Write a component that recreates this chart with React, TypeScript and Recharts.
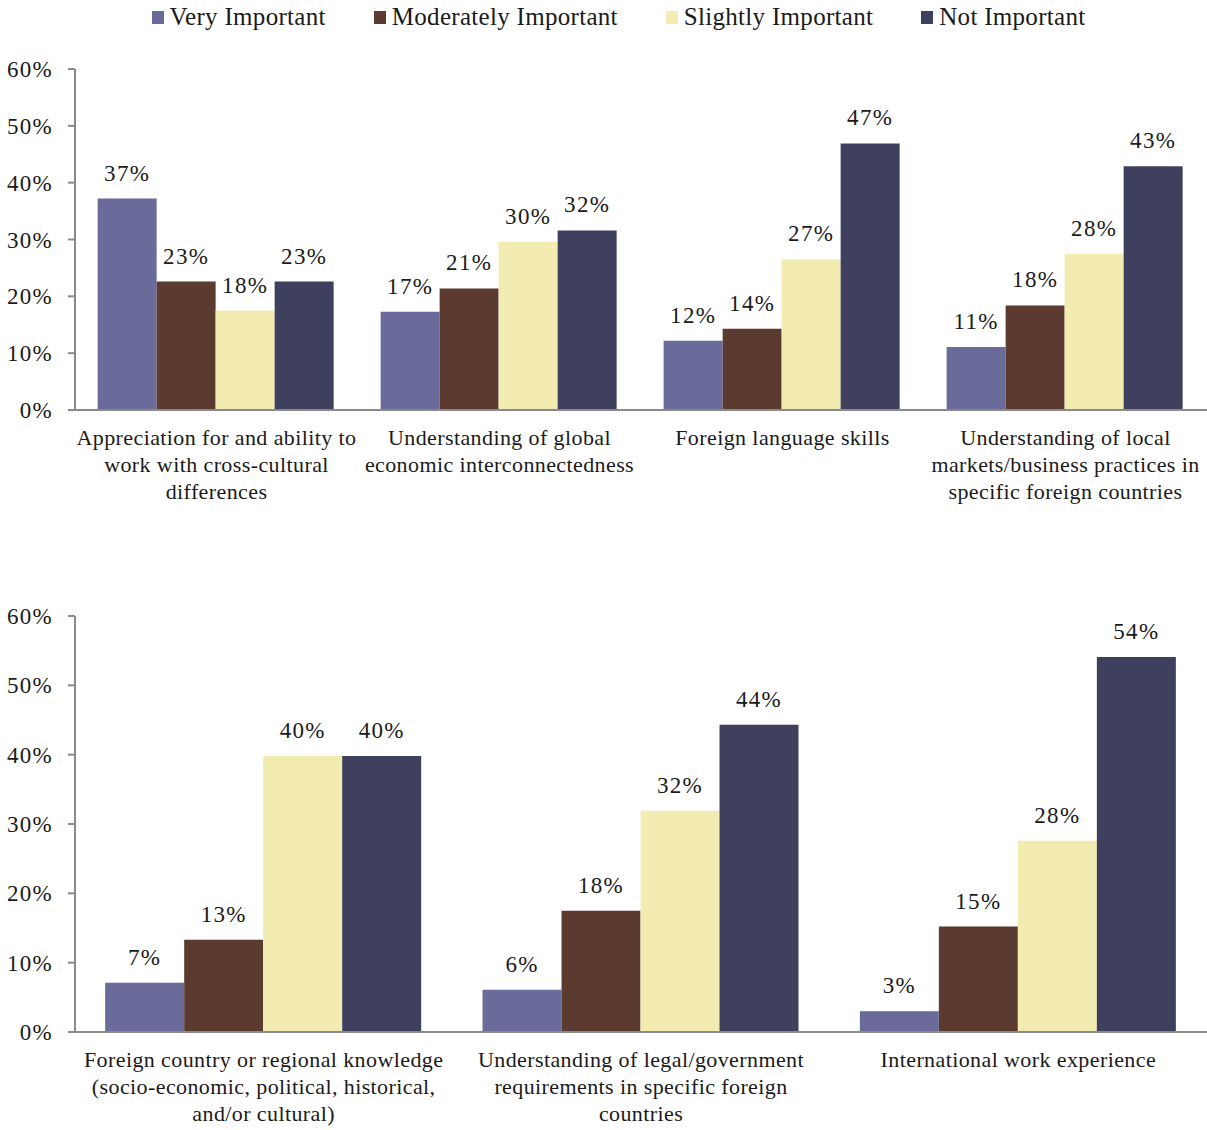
import React from "react";
import { BarChart, Bar, XAxis, YAxis, LabelList } from "recharts";

const seriesNames = ["Very Important", "Moderately Important", "Slightly Important", "Not Important"];
const seriesColors = ["#6a6a9b", "#5b3b2f", "#f2ecb0", "#3e405e"];

const topCategories = [
  "Appreciation for and ability to\nwork with cross-cultural\ndifferences",
  "Understanding of global\neconomic interconnectedness",
  "Foreign language skills",
  "Understanding of local\nmarkets/business practices in\nspecific foreign countries",
];
const topVery = [37.2, 17.3, 12.2, 11.1];
const topModerate = [22.6, 21.4, 14.3, 18.4];
const topSlight = [17.5, 29.6, 26.5, 27.5];
const topNot = [22.6, 31.6, 46.9, 42.9];

const bottomCategories = [
  "Foreign country or regional knowledge\n(socio-economic, political, historical,\nand/or cultural)",
  "Understanding of legal/government\nrequirements in specific foreign\ncountries",
  "International work experience",
];
const bottomVery = [7.1, 6.1, 3.0];
const bottomModerate = [13.3, 17.5, 15.2];
const bottomSlight = [39.8, 31.9, 27.6];
const bottomNot = [39.8, 44.3, 54.1];

const yTicks = [0, 10, 20, 30, 40, 50, 60];

const FONT = "'Liberation Serif', 'Times New Roman', serif";
const TEXT = "#1a1a1a";
const AXIS = "#8a8a8a";
const keys = ["very", "moderate", "slight", "not"];

function build(cats: string[], a: number[], b: number[], c: number[], d: number[]) {
  return cats.map((name, i) => ({ name, very: a[i], moderate: b[i], slight: c[i], not: d[i] }));
}

const topData = build(topCategories, topVery, topModerate, topSlight, topNot);
const bottomData = build(bottomCategories, bottomVery, bottomModerate, bottomSlight, bottomNot);

const CatTick = (props: any) => {
  const { x, y, payload } = props;
  const lines = String(payload.value).split("\n");
  return (
    <text x={x} y={y} textAnchor="middle" fill={TEXT} fontSize={22} letterSpacing={0.4} fontFamily={FONT}>
      {lines.map((l, i) => (
        <tspan key={i} x={x} dy={i === 0 ? 35 : 27}>
          {l}
        </tspan>
      ))}
    </text>
  );
};

const LegendBox = () => (
  <div
    style={{
      position: "absolute",
      left: 0,
      top: 0,
      width: 1207,
      height: 34,
      display: "flex",
      justifyContent: "center",
      alignItems: "center",
      paddingLeft: 30,
      boxSizing: "border-box",
      fontFamily: FONT,
      fontSize: 25,
      letterSpacing: 0.3,
      color: TEXT,
    }}
  >
    {seriesNames.map((n, i) => (
      <div key={n} style={{ display: "flex", alignItems: "center", marginRight: i < 3 ? 48 : 0 }}>
        <span style={{ display: "inline-block", width: 12, height: 13, background: seriesColors[i], marginRight: 6 }} />
        <span>{n}</span>
      </div>
    ))}
  </div>
);

function Panel({ data, height, top, bottom }: any) {
  return (
    <BarChart
      width={1207}
      height={height}
      data={data}
      margin={{ top, right: 0, bottom: 0, left: 0 }}
      barCategoryGap="8%"
      barGap={0}
      style={{ fontFamily: FONT }}
    >
      <XAxis
        dataKey="name"
        height={bottom}
        interval={0}
        tickLine={false}
        tickSize={0}
        tickMargin={0}
        axisLine={{ stroke: AXIS, strokeWidth: 2 }}
        tick={<CatTick />}
      />
      <YAxis
        width={75}
        domain={[0, 60]}
        ticks={yTicks}
        interval={0}
        tickFormatter={(v: number) => `${v}%`}
        tickSize={7}
        tickMargin={15}
        tick={{ fill: TEXT, fontSize: 23, fontFamily: FONT, letterSpacing: 1.3 }}
        tickLine={{ stroke: AXIS, strokeWidth: 2 }}
        axisLine={{ stroke: AXIS, strokeWidth: 2 }}
      />
      {keys.map((k, i) => (
        <Bar key={k} dataKey={k} name={seriesNames[i]} fill={seriesColors[i]} isAnimationActive={false}>
          <LabelList
            dataKey={k}
            position="top"
            offset={18}
            formatter={(v: any) => `${Math.round(Number(v))}%`}
            style={{ fill: TEXT, fontSize: 23, fontFamily: FONT, letterSpacing: 1.3 }}
          />
        </Bar>
      ))}
    </BarChart>
  );
}

export default function App() {
  return (
    <div style={{ position: "absolute", left: 0, top: 0, width: 1207, height: 1130, background: "#fff" }}>
      <LegendBox />
      <Panel data={topData} height={540} top={69} bottom={130} />
      <Panel data={bottomData} height={590} top={76} bottom={98} />
    </div>
  );
}
